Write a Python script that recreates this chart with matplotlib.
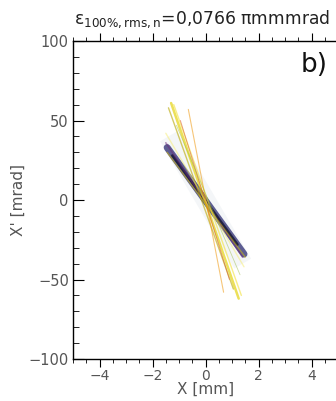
import numpy as np
import matplotlib.pyplot as plt
from matplotlib.ticker import MultipleLocator

# streaks of the phase-space distribution (x0, y0, x1, y1)
x0 = [-1.45, -1.25, -1.50, -1.30, -1.40, -1.20, -0.65, -0.95, -1.50, -1.45, -1.10]
y0 = [33, 28, 36, 61, 58, 60, 57, 50, 42, 30, 47]
x1 = [1.45, 1.20, 1.40, 1.25, 1.05, 1.35, 0.68, 0.90, 1.45, 1.50, 1.30]
y1 = [-34, -28, -36, -62, -56, -60, -58, -50, -42, -36, -47]
farbe = ['#2a2a70', '#0a0a20', '#6a2a7a', '#e2d000', '#b8a800', '#f3e23a',
         '#f0a020', '#d84a2a', '#f5ec70', '#d9c400', '#9bbb40']
grubosc = [5.0, 2.0, 1.2, 1.8, 1.0, 1.0, 0.8, 0.7, 1.0, 1.0, 0.6]
alfa = [0.75, 0.7, 0.5, 0.65, 0.6, 0.6, 0.6, 0.5, 0.5, 0.5, 0.5]

tytul = r'$\mathrm{\epsilon_{100\%,rms,n}}$=0,0766 $\mathrm{\pi}$mmmrad'

fig = plt.figure(figsize=(3.36, 4.01), dpi=100)
ax = fig.add_axes([0.2173, 0.1047, 0.789, 0.793])

# delikatne tlo wokol wiazki
ax.plot([-1.4, 1.4], [40, -40], color='#c8d4dc', lw=14, alpha=0.2, solid_capstyle='butt')

for a, b, c, d, k, g, al in zip(x0, y0, x1, y1, farbe, grubosc, alfa):
    ax.plot([a, c], [b, d], color=k, lw=g, alpha=al, solid_capstyle='round')

ax.set_xlim(-5, 5)
ax.set_ylim(-100, 100)
ax.xaxis.set_major_locator(MultipleLocator(2))
ax.xaxis.set_minor_locator(MultipleLocator(0.5))
ax.yaxis.set_major_locator(MultipleLocator(50))
ax.yaxis.set_minor_locator(MultipleLocator(10))
ax.tick_params(axis='x', which='both', direction='out', top=True, labelsize=10,
               labelcolor='#555555', pad=1)
ax.tick_params(axis='x', which='major', length=6)
ax.tick_params(axis='x', which='minor', length=3)
ax.tick_params(axis='y', which='both', direction='in', right=False, labelsize=10.5,
               labelcolor='#555555', pad=3)
ax.tick_params(axis='y', which='major', length=8)
ax.tick_params(axis='y', which='minor', length=4)
for s in ax.spines.values():
    s.set_linewidth(1.0)

ax.set_xlabel('X [mm]', fontsize=11, color='#555555', labelpad=-1)
ax.set_ylabel("X' [mrad]", fontsize=11, color='#555555', labelpad=2)
fig.text(74 / 336, 1 - 24 / 401, tytul, fontsize=12.3, color='#222222',
         ha='left', va='baseline')
ax.text(0.96, 0.925, 'b)', transform=ax.transAxes, fontsize=19, ha='right',
        va='center', color='#111111')

fig.savefig('out.png', dpi=100)
